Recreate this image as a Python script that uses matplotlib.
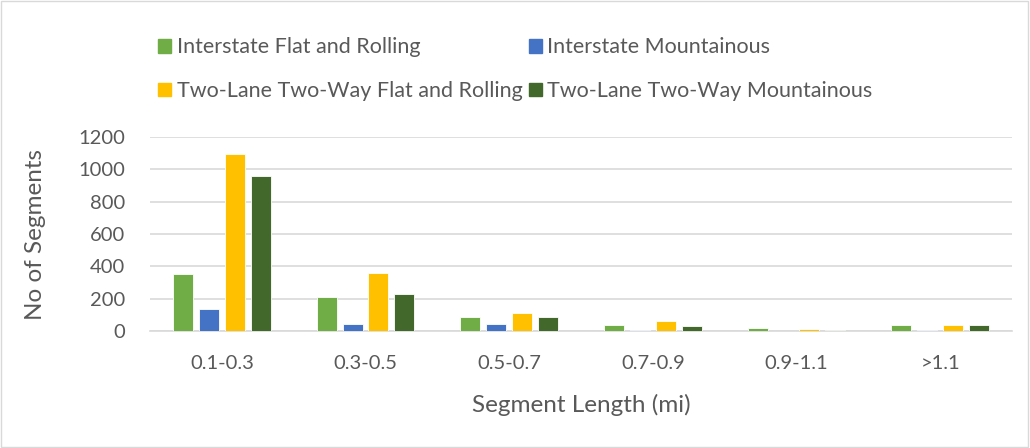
import numpy as np
import matplotlib.pyplot as plt
from matplotlib.patches import Patch, Rectangle

plt.rcParams['font.family'] = ['Lato', 'DejaVu Sans']

categories = ['0.1-0.3', '0.3-0.5', '0.5-0.7', '0.7-0.9', '0.9-1.1', '>1.1']
series_names = ['Interstate Flat and Rolling', 'Interstate Mountainous',
                'Two-Lane Two-Way Flat and Rolling', 'Two-Lane Two-Way Mountainous']
interstate_flat = [352, 212, 88, 38, 17, 38]
interstate_mount = [136, 42, 42, 8, 2, 8]
twolane_flat = [1093, 360, 109, 63, 10, 36]
twolane_mount = [960, 228, 84, 32, 6, 36]
colors = ['#70ad47', '#4472c4', '#ffc000', '#43682b']

values = [interstate_flat, interstate_mount, twolane_flat, twolane_mount]
text_col = '#595959'

fig = plt.figure(figsize=(10.3, 4.48), dpi=100)
ax = fig.add_axes([150/1030, 1 - 331/448, 862/1030, 194/448])

x = np.arange(len(categories))
width = 0.14
step = 0.18
for i, (vals, c) in enumerate(zip(values, colors)):
    ax.bar(x + (i - 1.5) * step, vals, width, color=c, edgecolor='white',
           linewidth=0.6, zorder=3)

ax.set_xlim(-0.5, len(categories) - 0.5)
ax.set_ylim(0, 1200)
ax.set_yticks(range(0, 1201, 200))
ax.yaxis.grid(True, color='#d9d9d9', linewidth=1.2, zorder=0)
ax.set_xticks(x)
ax.set_xticklabels(categories)
ax.tick_params(axis='both', length=0, labelsize=14.5, colors=text_col)
ax.tick_params(axis='x', pad=17)
ax.tick_params(axis='y', pad=18)
for s in ['top', 'right', 'left']:
    ax.spines[s].set_visible(False)
ax.spines['bottom'].set_color('#d9d9d9')
ax.spines['bottom'].set_linewidth(1.2)

ax.set_xlabel('Segment Length (mi)', fontsize=17.5, color=text_col, labelpad=16)
ax.set_ylabel('No of Segments', fontsize=17.5, color=text_col, labelpad=23)

handles = [Patch(color=c) for c in colors]
order = [0, 2, 1, 3]
fig.legend([handles[i] for i in order], [series_names[i] for i in order],
           ncol=2, loc='upper left', bbox_to_anchor=(139/1030, 1 - 18/448),
           frameon=False, fontsize=15.5, labelcolor=text_col,
           handlelength=0.6, handleheight=0.6, handletextpad=0.25,
           columnspacing=0.3, labelspacing=1.1)

fig.patches.append(Rectangle((0.001, 0.002), 0.997, 0.996, transform=fig.transFigure,
                             fill=False, edgecolor='#d9d9d9', linewidth=1))

fig.savefig('out.png', dpi=100)
